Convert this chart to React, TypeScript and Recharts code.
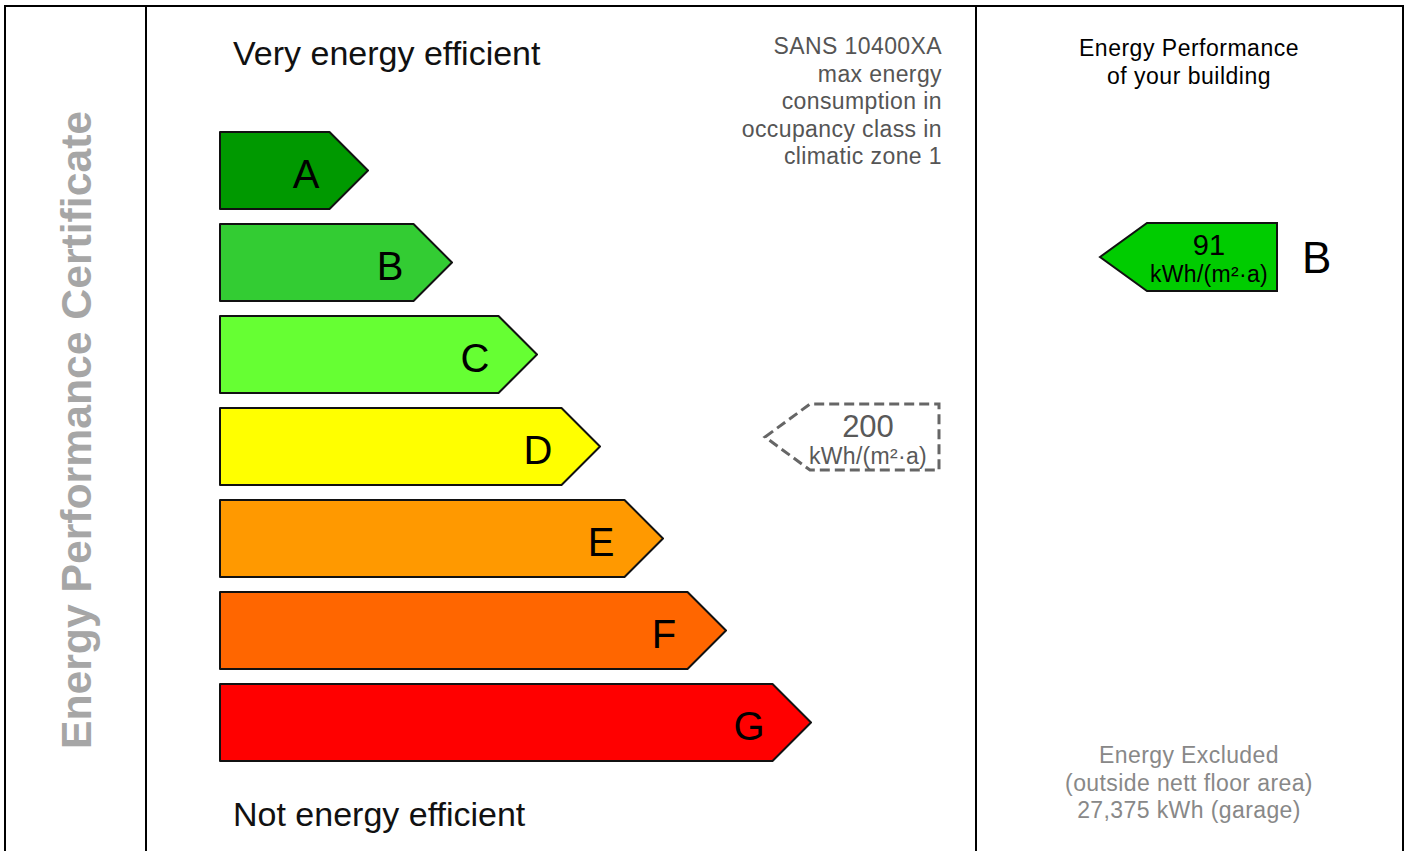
import { BarChart, Bar, XAxis, YAxis, ReferenceLine } from "recharts";

const classes = ["A", "B", "C", "D", "E", "F", "G"];
const barLengths = [148, 232, 317, 380, 443, 506, 591];
const classColors = ["#009900", "#33cc33", "#66ff33", "#ffff00", "#ff9900", "#ff6600", "#ff0000"];

const maxConsumption = 200;
const maxClass = "D";
const buildingConsumption = 91;
const buildingClass = "B";
const unitLabel = "kWh/(m²·a)";

const sansLines = ["SANS 10400XA", "max energy", "consumption in", "occupancy class in", "climatic zone 1"];
const excludedLines = ["Energy Excluded", "(outside nett floor area)", "27,375 kWh (garage)"];

const FONT = "'Liberation Sans', Arial, sans-serif";

const data = classes.map((cls, i) => ({ cls, len: barLengths[i], color: classColors[i] }));

function ArrowBar(props: any) {
  const { x, y, width, height, payload } = props;
  const tip = x + width;
  const end = tip - height / 2;
  const mid = y + height / 2;
  const pts = `${x},${y} ${end},${y} ${tip},${mid} ${end},${y + height} ${x},${y + height}`;
  return (
    <g>
      <polygon points={pts} fill={payload.color} stroke="#111" strokeWidth={2} strokeLinejoin="round" />
      <text x={tip - 62} y={mid + 17} textAnchor="middle" fontSize={40} fontFamily={FONT} fill="#000">
        {payload.cls}
      </text>
    </g>
  );
}

function MaxMarker(props: any) {
  const c = props.y1 - 9;
  const pts = `765,${c} 810,${c - 33} 939,${c - 33} 939,${c + 33} 810,${c + 33} Z`;
  return (
    <g>
      <path d={`M${pts}`} fill="none" stroke="#666" strokeWidth={3} strokeDasharray="10 5" />
      <text x={868} y={c} textAnchor="middle" fontSize={31} fontFamily={FONT} fill="#595959">
        {maxConsumption}
      </text>
      <text x={868} y={c + 27} textAnchor="middle" fontSize={23} letterSpacing={0.3} fontFamily={FONT} fill="#595959">
        {unitLabel}
      </text>
    </g>
  );
}

function BuildingMarker(props: any) {
  const c = props.y1 - 5;
  const pts = `1100,${c} 1147,${c - 34} 1277,${c - 34} 1277,${c + 34} 1147,${c + 34}`;
  return (
    <g>
      <polygon points={pts} fill="#00cc00" stroke="#111" strokeWidth={2} />
      <text x={1209} y={c - 2} textAnchor="middle" fontSize={29} fontFamily={FONT} fill="#000">
        {buildingConsumption}
      </text>
      <text x={1209} y={c + 25} textAnchor="middle" fontSize={23} letterSpacing={0.3} fontFamily={FONT} fill="#000">
        {unitLabel}
      </text>
      <text x={1302} y={c + 16} fontSize={44} fontFamily={FONT} fill="#000">
        {buildingClass}
      </text>
    </g>
  );
}

function Frame() {
  return (
    <svg width={1405} height={851} style={{ position: "absolute", left: 0, top: 0 }}>
      <g stroke="#000" strokeWidth={2}>
        <line x1={4} y1={6} x2={1404} y2={6} />
        <line x1={5} y1={6} x2={5} y2={851} />
        <line x1={146} y1={6} x2={146} y2={851} />
        <line x1={976} y1={6} x2={976} y2={851} />
        <line x1={1403} y1={6} x2={1403} y2={851} />
      </g>
      <text
        transform="translate(91,430) rotate(-90)"
        textAnchor="middle"
        fontSize={42.7}
        fontWeight="bold"
        fontFamily={FONT}
        fill="#a6a6a6"
      >
        Energy Performance Certificate
      </text>
      <text x={233} y={65} fontSize={34} fontFamily={FONT} fill="#111">
        Very energy efficient
      </text>
      <text x={233} y={826} fontSize={34} fontFamily={FONT} fill="#111">
        Not energy efficient
      </text>
      {sansLines.map((t, i) => (
        <text
          key={t}
          x={942}
          y={54 + i * 27.5}
          textAnchor="end"
          fontSize={23}
          letterSpacing={0.4}
          fontFamily={FONT}
          fill="#555"
        >
          {t}
        </text>
      ))}
      <text x={1189} y={56} textAnchor="middle" fontSize={23} letterSpacing={0.5} fontFamily={FONT} fill="#000">
        Energy Performance
      </text>
      <text x={1189} y={83.5} textAnchor="middle" fontSize={23} letterSpacing={0.5} fontFamily={FONT} fill="#000">
        of your building
      </text>
      {excludedLines.map((t, i) => (
        <text
          key={t}
          x={1189}
          y={763 + i * 27.5}
          textAnchor="middle"
          fontSize={23}
          letterSpacing={0.4}
          fontFamily={FONT}
          fill="#888"
        >
          {t}
        </text>
      ))}
    </svg>
  );
}

export default function App() {
  return (
    <div style={{ position: "absolute", left: 0, top: 0, width: 1405, height: 851, background: "#fff" }}>
      <Frame />
      <div style={{ position: "absolute", left: 0, top: 0 }}>
        <BarChart
          width={1405}
          height={851}
          data={data}
          layout="vertical"
          margin={{ top: 124, right: 585, bottom: 83, left: 220 }}
        >
          <XAxis type="number" domain={[0, 600]} hide />
          <YAxis type="category" dataKey="cls" hide />
          <Bar dataKey="len" barSize={77} shape={ArrowBar} isAnimationActive={false} />
          <ReferenceLine y={maxClass} shape={MaxMarker} />
          <ReferenceLine y={buildingClass} shape={BuildingMarker} />
        </BarChart>
      </div>
    </div>
  );
}
